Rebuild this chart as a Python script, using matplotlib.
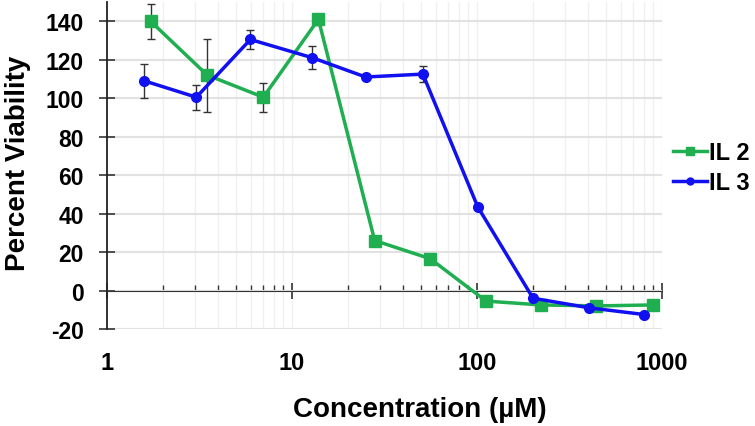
import numpy as np
import matplotlib
matplotlib.use("Agg")
import matplotlib.pyplot as plt
from matplotlib.lines import Line2D
from matplotlib.ticker import NullFormatter

# concentrations (uM) and viability (%)
conc_il2 = [1.72, 3.48, 7.0, 13.9, 28, 56, 112, 222, 442, 900]
via_il2 = [140, 112, 100.5, 141, 26, 16.5, -5.5, -7.5, -8, -7.5]
err_il2 = [9, 19, 7.5, 3, 0, 0, 0, 0, 0, 0]

conc_il3 = [1.59, 3.04, 5.96, 12.9, 25, 51, 101, 201, 405, 804]
via_il3 = [109, 100.5, 130.5, 121, 111, 112.5, 43.5, -4, -9, -12.5]
err_il3 = [9, 6.5, 5, 6, 0, 4, 0, 0, 0, 0]

xtick_vals = [1, 10, 100, 1000]
xtick_labels = ["1", "10", "100", "1000"]

green = "#1fae50"
blue = "#1010f0"

plt.rcParams["font.family"] = ["Liberation Sans", "DejaVu Sans"]
plt.rcParams["font.weight"] = "bold"
plt.rcParams["axes.unicode_minus"] = False

fig = plt.figure(figsize=(7.55, 4.27), dpi=100)
ax = fig.add_axes([0.1417, 0.2272, 0.735, 0.7658])

ax.errorbar(conc_il2, via_il2, yerr=err_il2, color=green, lw=2.5, marker="s", ms=8,
            ecolor="#333333", elinewidth=1, capsize=3, zorder=3)
ax.errorbar(conc_il3, via_il3, yerr=err_il3, color=blue, lw=2.5, marker="o", ms=7,
            ecolor="#333333", elinewidth=1, capsize=3, zorder=3)

ax.set_xscale("log")
ax.set_xlim(1, 1000)
ax.set_ylim(-20, 150)
ax.set_yticks(np.arange(-20, 141, 20))

# gridlines
ax.yaxis.grid(True, color="#e2e2e2", lw=1.5, zorder=0)
ax.xaxis.grid(True, which="both", color="#f0f0f0", lw=1.0, zorder=0)

# x axis line drawn at y = 0 (top spine), labels kept at the bottom
ax.spines["right"].set_visible(False)
ax.spines["bottom"].set_visible(False)
ax.spines["top"].set_position(("data", 0))
ax.spines["top"].set_color("#333333")
ax.spines["left"].set_color("#222222")
ax.spines["left"].set_linewidth(1.3)
ax.xaxis.set_minor_formatter(NullFormatter())
ax.set_xticks(xtick_vals)
ax.set_xticklabels(xtick_labels)
ax.tick_params(axis="x", which="major", bottom=False, top=True, labelbottom=True,
               labeltop=False, direction="inout", length=11, width=1.2, color="#333333",
               labelsize=17, pad=10)
ax.tick_params(axis="x", which="minor", bottom=False, top=True, direction="out",
               length=4, width=1, color="#333333")
ax.tick_params(axis="y", direction="inout", length=11, width=1.2, color="#333333",
               labelsize=16.5, pad=11)

ax.set_xlabel("Concentration (\u00b5M)", fontsize=20, fontweight="bold")
ax.xaxis.set_label_coords(0.563, -0.205)
ax.set_ylabel("Percent Viability", fontsize=20, fontweight="bold")
ax.yaxis.set_label_coords(-0.137, 0.511)

handles = [Line2D([], [], color=green, lw=2.5, marker="s", ms=6),
           Line2D([], [], color=blue, lw=2.5, marker="o", ms=5)]
fig.legend(handles, ["IL 2", "IL 3"], loc="center left", bbox_to_anchor=(673 / 755, 0.605),
           frameon=False, fontsize=17, handlelength=1.44, handletextpad=0.1,
           labelspacing=0.3, borderpad=0, borderaxespad=0)

fig.savefig("out.png", dpi=100)
